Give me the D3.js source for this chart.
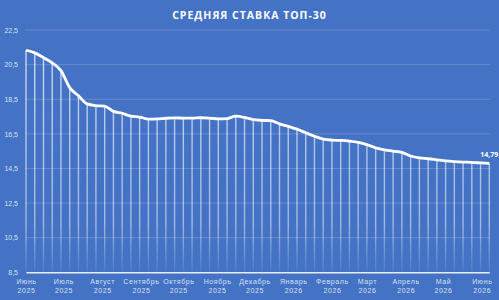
<!DOCTYPE html>
<html lang="ru">
    <head>
        <meta charset="utf-8">
        <title>Средняя ставка ТОП-30</title>
        <script src="https://d3js.org/d3.v7.min.js"></script>
        <style type="text/css">
            body { margin: 0; background: #4472c4; }
            svg { display: block; font-family: 'Open Sans', 'Noto Sans', sans-serif; }
            .title { fill: #ffffff; font-size: 10.5px; font-weight: 700; letter-spacing: 1px; }
            .axis text { fill: #d5e0f3; font-size: 7px; }
            .xaxis text { letter-spacing: 0.6px; }
            .grid line { stroke: #ffffff; stroke-opacity: 0.18; stroke-width: 1px; }
            .line { fill: none; stroke: #ffffff; stroke-width: 2.8px; stroke-linejoin: round; }
            .drop { stroke: url(#dropFade); stroke-width: 1.4px; }
        </style>
    </head>
    <body>
        <script type="text/javascript">
            const w = 499;
            const h = 300;
            const plotLeft = 26, plotRight = 489.3, plotTop = 30, plotBottom = 272.3;

            // weekly values, starting 1 June 2025
            const startDate = new Date(2025, 5, 1);
            const values = [
                21.33, 21.18, 20.90, 20.60, 20.15, 19.17, 18.70, 18.23, 18.13, 18.10,
                17.80, 17.69, 17.52, 17.47, 17.35, 17.36, 17.40, 17.42, 17.41, 17.41,
                17.43, 17.41, 17.36, 17.38, 17.52, 17.45, 17.32, 17.28, 17.26, 17.08,
                16.93, 16.77, 16.56, 16.36, 16.20, 16.14, 16.12, 16.08, 16.01, 15.88,
                15.69, 15.58, 15.50, 15.43, 15.22, 15.11, 15.06, 15.00, 14.94, 14.90,
                14.87, 14.85, 14.82, 14.79
            ];
            const monthNames = ["Июнь", "Июль", "Август", "Сентябрь", "Октябрь", "Ноябрь", "Декабрь",
                                "Январь", "Февраль", "Март", "Апрель", "Май", "Июнь"];
            const monthYears = ["2025", "2025", "2025", "2025", "2025", "2025", "2025",
                                "2026", "2026", "2026", "2026", "2026", "2026"];
            const yTicks = [8.5, 10.5, 12.5, 14.5, 16.5, 18.5, 20.5, 22.5];

            const data = values.map((v, i) => ({ date: d3.timeDay.offset(startDate, i * 7), value: v }));
            const monthTicks = d3.timeMonth.range(startDate, d3.timeDay.offset(data[data.length - 1].date, 1));
            const fmt = d3.format(".2f");

            const xScale = d3.scaleTime()
                             .domain(d3.extent(data, d => d.date))
                             .range([plotLeft, plotRight]);

            const yScale = d3.scaleLinear()
                             .domain([8.5, 22.5])
                             .range([plotBottom, plotTop]);

            const svg = d3.select("body")
                          .append("svg")
                          .attr("width", w)
                          .attr("height", h);

            const defs = svg.append("defs");
            const grad = defs.append("linearGradient")
                             .attr("id", "dropFade")
                             .attr("gradientUnits", "userSpaceOnUse")
                             .attr("x1", 0).attr("x2", 0)
                             .attr("y1", plotTop).attr("y2", plotBottom);
            grad.append("stop").attr("offset", "0%").attr("stop-color", "#ffffff").attr("stop-opacity", 0.75);
            grad.append("stop").attr("offset", "80%").attr("stop-color", "#ffffff").attr("stop-opacity", 0.5);
            grad.append("stop").attr("offset", "100%").attr("stop-color", "#ffffff").attr("stop-opacity", 0.05);

            svg.append("text")
               .attr("class", "title")
               .attr("x", w / 2)
               .attr("y", 19)
               .attr("text-anchor", "middle")
               .text("СРЕДНЯЯ СТАВКА ТОП-30");

            // horizontal grid
            svg.append("g")
               .attr("class", "grid")
               .selectAll("line")
               .data(yTicks.slice(1))
               .join("line")
               .attr("x1", plotLeft - 1)
               .attr("x2", plotRight + 1)
               .attr("y1", d => yScale(d))
               .attr("y2", d => yScale(d));

            // left axis labels
            const leftAxis = d3.axisLeft(yScale)
                               .tickValues(yTicks)
                               .tickSize(0)
                               .tickPadding(8)
                               .tickFormat(d => d3.format(".1f")(d).replace(".", ","));
            svg.append("g")
               .attr("class", "axis")
               .attr("transform", "translate(" + plotLeft + ",0)")
               .call(leftAxis)
               .call(g => g.select(".domain").remove());

            // drop lines
            svg.append("g")
               .selectAll("line")
               .data(data)
               .join("line")
               .attr("class", "drop")
               .attr("x1", d => xScale(d.date))
               .attr("x2", d => xScale(d.date))
               .attr("y1", d => yScale(d.value))
               .attr("y2", plotBottom);

            // bottom axis
            const bottomAxis = d3.axisBottom(xScale)
                                 .tickValues(monthTicks)
                                 .tickSize(0)
                                 .tickPadding(5)
                                 .tickFormat(() => "");
            const xg = svg.append("g")
                          .attr("class", "axis xaxis")
                          .attr("transform", "translate(0," + plotBottom + ")")
                          .call(bottomAxis);
            xg.select(".domain")
              .attr("stroke", "#e6edf9")
              .attr("stroke-width", 1.6);
            xg.selectAll(".tick text")
              .each(function(d, i) {
                  const t = d3.select(this).text(null).attr("y", 0).attr("dy", null);
                  t.append("tspan").attr("x", 0).attr("y", 12).text(monthNames[i]);
                  t.append("tspan").attr("x", 0).attr("y", 21).text(monthYears[i]);
              });

            // main line
            const line = d3.line()
                           .curve(d3.curveMonotoneX)
                           .x(d => xScale(d.date))
                           .y(d => yScale(d.value));
            svg.append("path")
               .datum(data)
               .attr("class", "line")
               .attr("d", line);

            // last value label
            const last = data[data.length - 1];
            svg.append("text")
               .attr("x", xScale(last.date))
               .attr("y", yScale(last.value) - 6)
               .attr("text-anchor", "middle")
               .attr("fill", "#ffffff")
               .attr("font-size", "7px")
               .attr("font-weight", 700)
               .text(fmt(last.value).replace(".", ","));
        </script>
    </body>
</html>
